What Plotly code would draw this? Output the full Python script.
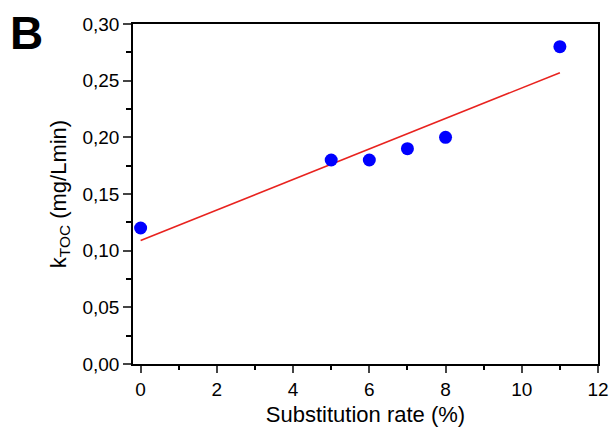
import plotly.graph_objects as go

sub_rate = [0, 5, 6, 7, 8, 11]
k_toc = [0.12, 0.18, 0.18, 0.19, 0.20, 0.28]
fit_x = [0, 11]
fit_y = [0.109, 0.257]

fig = go.Figure()
fig.add_trace(go.Scatter(x=fit_x, y=fit_y, mode="lines",
                         line=dict(color="#e8231f", width=1.6), showlegend=False))
fig.add_trace(go.Scatter(x=sub_rate, y=k_toc, mode="markers",
                         marker=dict(color="#0000ff", size=13), showlegend=False))

font = "Liberation Sans, Arial, sans-serif"
fig.update_layout(
    width=610, height=432,
    margin=dict(l=133, r=12, t=24, b=68, autoexpand=False),
    paper_bgcolor="white", plot_bgcolor="white",
    separators=",.",
    font=dict(family=font, size=19, color="black"),
    xaxis=dict(range=[-0.2, 12], dtick=2, tick0=0, ticks="outside", ticklen=7,
               tickwidth=1.5, showline=True, linecolor="black", linewidth=1.5,
               mirror=True, showgrid=False, zeroline=False, automargin=False,
               minor=dict(dtick=1, ticks="outside", ticklen=4, tickwidth=1.5, tickcolor="black"),
               title=dict(text="Substitution rate (%)", font=dict(size=22), standoff=8)),
    yaxis=dict(range=[0, 0.3], dtick=0.05, ticks="outside", ticklen=8, tickwidth=1.5,
               tickformat=".2f", showline=True, linecolor="black", linewidth=1.5,
               mirror=True, showgrid=False, zeroline=False, automargin=False,
               minor=dict(dtick=0.025, ticks="outside", ticklen=5, tickwidth=1.5, tickcolor="black"),
               title=dict(text="k<sub>TOC</sub> (mg/Lmin)", font=dict(size=22), standoff=10)),
)
fig.add_annotation(text="<b>B</b>", xref="paper", yref="paper", x=-0.228, y=0.974,
                   xanchor="center", yanchor="middle", showarrow=False,
                   font=dict(size=46, family=font, color="black"))

fig.write_html("out.html")
